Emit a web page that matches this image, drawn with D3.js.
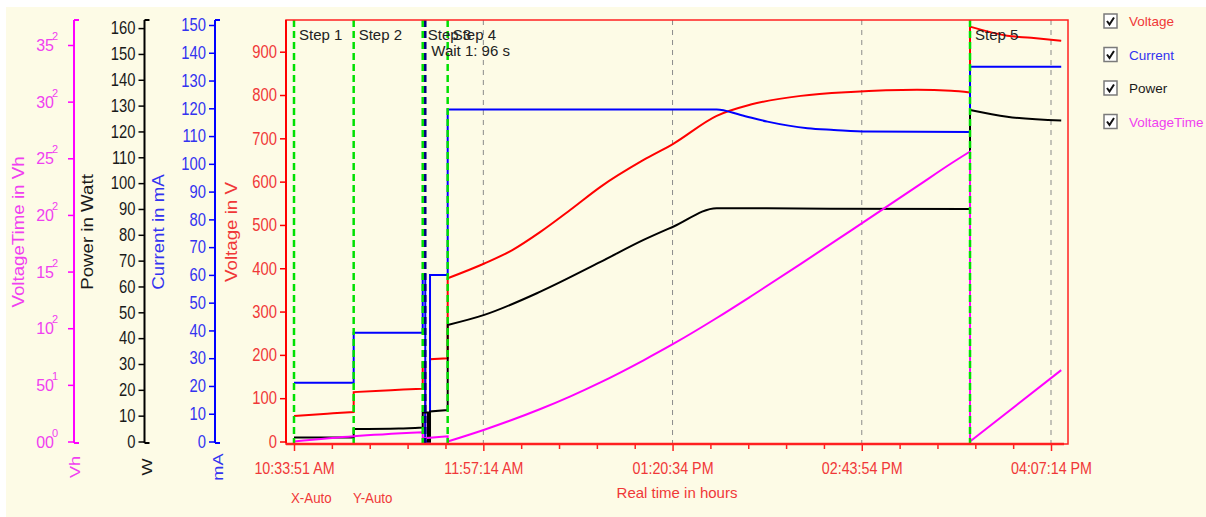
<!DOCTYPE html>
<html>
<head>
<meta charset="utf-8">
<script src="https://cdn.jsdelivr.net/npm/d3@7"></script>
<style>
body { margin: 0; background: #fff; }
svg text { font-family: "Liberation Sans", Arial, sans-serif; }
</style>
</head>
<body>
<div id="chart"></div>
<script>
// series: [time, value]
const voltage = [
    ["10:33:51", 59], ["10:42:00", 62], ["10:51:00", 65], ["11:00:08", 68],
    ["11:00:08", 114], ["11:12:00", 117], ["11:22:00", 120], ["11:30:32", 122],
    ["11:30:32", 183], ["11:31:40", 183], ["11:31:40", 0], ["11:33:45", 0], ["11:33:45", 190], ["11:41:32", 192],
    ["11:41:32", 377], ["11:57:40", 411], ["12:10:00", 442], ["12:22:22", 484], ["12:35:36", 535],
    ["12:48:50", 588], ["13:07:48", 650], ["13:21:02", 688], ["13:40:00", 752], ["13:54:59", 778],
    ["14:17:03", 798], ["14:39:06", 807], ["15:08:13", 812], ["15:23:13", 810], ["15:31:34", 806],
    ["15:31:34", 958], ["15:47:55", 937], ["15:58:30", 932], ["16:11:44", 925]
];
const current = [
    ["10:33:51", 21.2], ["11:00:08", 21.2], ["11:00:08", 39.2], ["11:30:32", 39.2],
    ["11:30:32", 60], ["11:31:40", 60], ["11:31:40", 0], ["11:33:45", 0], ["11:33:45", 60], ["11:41:32", 60],
    ["11:41:32", 119.6], ["13:40:00", 119.6], ["13:50:35", 117.6], ["14:02:22", 115.2], ["14:20:00", 112.8],
    ["14:31:36", 112.2], ["14:46:28", 111.6], ["15:31:34", 111.5],
    ["15:31:34", 135], ["16:11:44", 135]
];
const power = [
    ["10:33:51", 1.5], ["11:00:08", 1.5], ["11:00:08", 4.8], ["11:20:00", 5.0], ["11:30:32", 5.4],
    ["11:30:32", 11.2], ["11:32:52", 11.2], ["11:32:52", 0], ["11:33:45", 0], ["11:33:45", 11.6], ["11:41:32", 12.2],
    ["11:41:32", 45.1], ["11:57:40", 49], ["12:22:22", 58], ["12:48:50", 69.5], ["13:07:48", 78],
    ["13:21:02", 83.2], ["13:40:00", 90.3], ["14:30:00", 90.1], ["15:31:34", 90],
    ["15:31:34", 128.3], ["15:47:55", 125.7], ["16:11:44", 124.2]
];
const voltageTime = [
    ["10:33:51", 0], ["11:00:08", 4.6], ["11:30:32", 8.1], ["11:30:32", 2.8], ["11:41:32", 4.6],
    ["11:41:32", 0], ["11:57:40", 10.4], ["12:22:22", 28.7], ["12:35:36", 39.9], ["12:48:50", 52.2],
    ["13:07:48", 71.7], ["13:21:02", 86.3], ["13:40:00", 109], ["13:54:59", 128], ["14:17:03", 156.8],
    ["14:39:06", 186.2], ["15:08:13", 225.2], ["15:23:13", 245.4], ["15:31:34", 256],
    ["15:31:34", 0], ["16:11:44", 63]
];

const steps = ["Step 1", "Step 2", "Step 3", "Step 4", "Step 5"];
const stepTimes = ["10:33:51", "11:00:08", "11:30:32", "11:41:32", "15:31:34"];
const waitTime = "11:31:40";
const waitLabel = "Wait 1: 96 s";

const xTickTimes = ["10:33:51", "11:57:14", "13:20:34", "14:43:54", "16:07:14"];
const xTickLabels = ["10:33:51 AM", "11:57:14 AM", "01:20:34 PM", "02:43:54 PM", "04:07:14 PM"];

const vtTicks = [0, 50, 100, 150, 200, 250, 300, 350];
const vtTickBase = ["00", "50", "10", "15", "20", "25", "30", "35"];
const vtTickExp = ["0", "1", "2", "2", "2", "2", "2", "2"];

const legendNames = ["Voltage", "Current", "Power", "VoltageTime"];
const colors = { Voltage: "#ff0000", Current: "#0000ff", Power: "#000000", VoltageTime: "#ff00ff" };
const textColors = { Voltage: "#f03838", Current: "#3333f0", Power: "#1a1a1a", VoltageTime: "#f040f0" };

const parseT = d3.timeParse("%H:%M:%S");

// squeeze / stretch text to look like the narrow font of the original
function fit(sel, f) {
    sel.each(function () {
        const w = this.getComputedTextLength();
        d3.select(this).attr("textLength", w * f).attr("lengthAdjust", "spacingAndGlyphs");
    });
}

const svg = d3.select("#chart").append("svg");
svg.attr("width", 1206).attr("height", 517);

svg.append("rect")
    .attr("x", 6).attr("y", 7)
    .attr("width", 1200).attr("height", 510)
    .attr("fill", "#fdfbe6");

const plotLeft = 286, plotRight = 1068, plotTop = 20, plotBottom = 444;

const x = d3.scaleTime()
    .domain([parseT(xTickTimes[0]), parseT(xTickTimes[4])])
    .range([294, 1051]);

const yV = d3.scaleLinear().domain([0, 900]).range([441.5, 51.7]);
const yC = d3.scaleLinear().domain([0, 150]).range([441.5, 25]);
const yP = d3.scaleLinear().domain([0, 160]).range([441.5, 28.1]);
const yVT = d3.scaleLinear().domain([0, 350]).range([441.5, 45]);

// grid lines
svg.selectAll("grid")
    .data(xTickTimes.slice(1))
    .join("line")
    .attr("x1", d => x(parseT(d)))
    .attr("x2", d => x(parseT(d)))
    .attr("y1", plotTop)
    .attr("y2", plotBottom)
    .attr("stroke", "#8a8a8a")
    .attr("stroke-width", 1)
    .attr("stroke-dasharray", "5,5");

// data lines, smooth between jumps
const series = [
    { name: "Voltage", data: voltage, y: yV },
    { name: "Current", data: current, y: yC },
    { name: "Power", data: power, y: yP },
    { name: "VoltageTime", data: voltageTime, y: yVT }
];

function seriesPath(data, y) {
    const runs = [];
    let cur = [];
    data.forEach((d, i) => {
        if (i > 0 && d[0] === data[i - 1][0]) { runs.push(cur); cur = []; }
        cur.push(d);
    });
    runs.push(cur);
    const line = d3.line()
        .x(d => x(parseT(d[0])))
        .y(d => y(d[1]))
        .curve(d3.curveMonotoneX);
    return runs.map((r, i) => {
        const p = line(r).replace("Z", "");
        return i === 0 ? p : "L" + p.slice(1);
    }).join("");
}

series.forEach(s => {
    svg.append("path")
        .attr("d", seriesPath(s.data, s.y))
        .attr("fill", "none")
        .attr("stroke", colors[s.name])
        .attr("stroke-width", 2);
});

// step lines
svg.selectAll("steplines")
    .data(stepTimes)
    .join("line")
    .attr("x1", d => x(parseT(d)))
    .attr("x2", d => x(parseT(d)))
    .attr("y1", plotTop)
    .attr("y2", plotBottom)
    .attr("stroke", "#00e000")
    .attr("stroke-width", 2.5)
    .attr("stroke-dasharray", "7,4");

svg.append("line")
    .attr("x1", x(parseT(waitTime)))
    .attr("x2", x(parseT(waitTime)))
    .attr("y1", plotTop)
    .attr("y2", plotBottom)
    .attr("stroke", "#000080")
    .attr("stroke-width", 2.5)
    .attr("stroke-dasharray", "7,4");

svg.selectAll("steplabels")
    .data(steps)
    .join("text")
    .attr("x", (d, i) => x(parseT(stepTimes[i])) + 5)
    .attr("y", 40)
    .attr("font-size", "15px")
    .attr("fill", "#222")
    .text(d => d);

svg.append("text")
    .attr("x", x(parseT(waitTime)) + 6)
    .attr("y", 56)
    .attr("font-size", "15px")
    .attr("fill", "#222")
    .text(waitLabel);

// frame
svg.append("rect")
    .attr("x", plotLeft).attr("y", plotTop)
    .attr("width", plotRight - plotLeft).attr("height", plotBottom - plotTop)
    .attr("fill", "none")
    .attr("stroke", "#ff2020")
    .attr("stroke-width", 1.5);

// x axis
const xAxis = svg.append("g")
    .attr("transform", `translate(0,${plotBottom})`)
    .call(d3.axisBottom(x)
        .tickValues(xTickTimes.map(parseT))
        .tickFormat((d, i) => xTickLabels[i])
        .tickSize(7)
        .tickPadding(11));

const minor = [];
for (let i = 0; i < xTickTimes.length - 1; i++) {
    const a = parseT(xTickTimes[i]).getTime(), b = parseT(xTickTimes[i + 1]).getTime();
    for (let j = 1; j < 5; j++) minor.push(new Date(a + (b - a) * j / 5));
}
svg.append("g")
    .attr("transform", `translate(0,${plotBottom})`)
    .call(d3.axisBottom(x).tickValues(minor).tickFormat("").tickSize(5))
    .call(g => g.select(".domain").remove())
    .selectAll("line").attr("stroke", "#ff2020").attr("stroke-width", 1.5);

xAxis.select(".domain").remove();
xAxis.append("line")
    .attr("x1", plotLeft).attr("x2", plotRight - 4)
    .attr("y1", 0).attr("y2", 0)
    .attr("stroke", "#ff2020")
    .attr("stroke-width", 2.5);
xAxis.selectAll(".tick line").attr("stroke", "#ff2020").attr("stroke-width", 1.5);
xAxis.selectAll(".tick text")
    .attr("fill", textColors.Voltage)
    .attr("font-size", "17px")
    .attr("font-family", "Liberation Sans, Arial, sans-serif")
    .call(fit, 0.84);

svg.append("text")
    .attr("x", 677).attr("y", 498)
    .attr("text-anchor", "middle")
    .attr("font-size", "15px")
    .attr("fill", textColors.Voltage)
    .text("Real time in hours");

svg.append("text").attr("x", 291).attr("y", 503)
    .attr("font-size", "14px").attr("fill", textColors.Voltage).text("X-Auto")
    .call(fit, 0.95);
svg.append("text").attr("x", 353).attr("y", 503)
    .attr("font-size", "14px").attr("fill", textColors.Voltage).text("Y-Auto")
    .call(fit, 0.95);

// y axes
function yAxis(xPos, scale, majors, minors, name, hook) {
    const g = svg.append("g").attr("transform", `translate(${xPos},0)`);
    g.call(d3.axisLeft(scale).tickValues(minors).tickFormat("").tickSize(3));
    g.call(d3.axisLeft(scale).tickValues(majors).tickSize(6).tickPadding(3));
    g.selectAll(".domain").remove();
    g.selectAll("line").attr("stroke", colors[name]).attr("stroke-width", 1.5);
    g.selectAll("text")
        .attr("fill", textColors[name])
        .attr("font-size", "18px")
        .attr("font-family", "Liberation Sans, Arial, sans-serif")
        .call(fit, 0.82);
    g.append("line")
        .attr("x1", 0).attr("x2", 0)
        .attr("y1", plotTop).attr("y2", 443)
        .attr("stroke", colors[name]).attr("stroke-width", 2);
    if (hook) {
        g.append("path")
            .attr("d", `M0,${plotTop}H5M0,443H5`)
            .attr("stroke", colors[name]).attr("stroke-width", 2).attr("fill", "none");
    }
    return g;
}

yAxis(plotLeft, yV, d3.range(0, 901, 100), d3.range(0, 961, 20), "Voltage", false);
yAxis(215, yC, d3.range(0, 151, 10), d3.range(0, 151, 2), "Current", true);
yAxis(144.5, yP, d3.range(0, 161, 10), d3.range(0, 161, 2), "Power", true);

const vtAxis = yAxis(74, yVT, vtTicks, d3.range(0, 361, 10), "VoltageTime", true);
vtAxis.selectAll(".tick text").remove();
vtAxis.selectAll("vtbase")
    .data(vtTicks)
    .join("text")
    .attr("x", -20)
    .attr("y", d => yVT(d) + 6)
    .attr("text-anchor", "end")
    .attr("font-size", "16px")
    .attr("fill", textColors.VoltageTime)
    .text((d, i) => vtTickBase[i]);
vtAxis.selectAll("vtexp")
    .data(vtTicks)
    .join("text")
    .attr("x", -16)
    .attr("y", d => yVT(d) - 5)
    .attr("font-size", "11px")
    .attr("fill", textColors.VoltageTime)
    .text((d, i) => vtTickExp[i]);

// axis titles
const titles = [
    { text: "VoltageTime in Vh", x: 18, name: "VoltageTime" },
    { text: "Power in Watt", x: 87, name: "Power" },
    { text: "Current in mA", x: 158, name: "Current" },
    { text: "Voltage in V", x: 231, name: "Voltage" }
];
svg.selectAll("titles")
    .data(titles)
    .join("text")
    .attr("transform", d => `translate(${d.x + 6},232) rotate(-90)`)
    .attr("text-anchor", "middle")
    .attr("font-size", "17px")
    .attr("fill", d => textColors[d.name])
    .text(d => d.text)
    .call(fit, 1.1);

const units = [
    { text: "Vh", x: 75, name: "VoltageTime" },
    { text: "W", x: 147, name: "Power" },
    { text: "mA", x: 218, name: "Current" }
];
svg.selectAll("units")
    .data(units)
    .join("text")
    .attr("transform", d => `translate(${d.x + 5},467) rotate(-90)`)
    .attr("text-anchor", "middle")
    .attr("font-size", "14px")
    .attr("fill", d => textColors[d.name])
    .text(d => d.text)
    .call(fit, 1.3);

// legend
const legend = svg.selectAll("legend")
    .data(legendNames)
    .join("g")
    .attr("transform", (d, i) => `translate(1104,${14 + i * 33.5})`);

legend.append("rect")
    .attr("width", 13).attr("height", 14)
    .attr("fill", "#fff")
    .attr("stroke", "#7a7a7a")
    .attr("stroke-width", 1.5);
legend.append("path")
    .attr("d", "M3,7L5.5,10.5L10,3.5")
    .attr("fill", "none")
    .attr("stroke", "#111")
    .attr("stroke-width", 2);
legend.append("text")
    .attr("x", 25)
    .attr("y", 12)
    .attr("font-size", "13.5px")
    .attr("fill", d => textColors[d])
    .text(d => d);
</script>
</body>
</html>
